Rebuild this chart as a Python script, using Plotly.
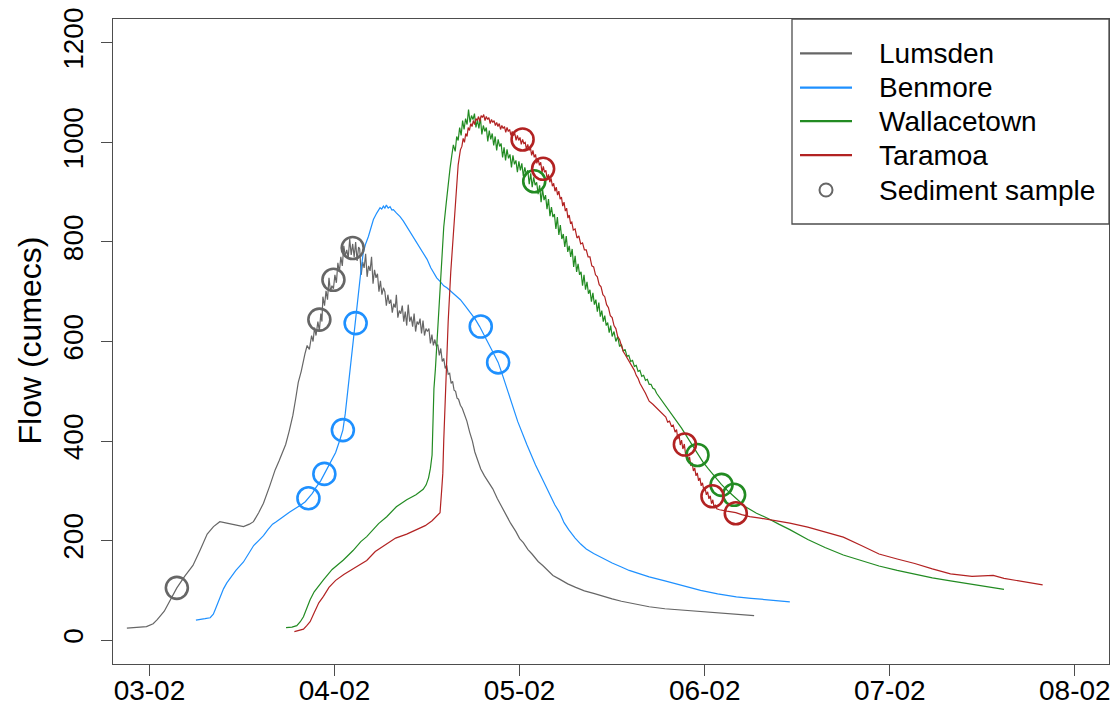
import plotly.graph_objects as go

# ---------------- data (day of February, flow in cumecs) ----------------
tick_vals = [3, 4, 5, 6, 7, 8]
tick_text = ["03-02", "04-02", "05-02", "06-02", "07-02", "08-02"]
y_ticks = [0, 200, 400, 600, 800, 1000, 1200]

site_names = ["Lumsden", "Benmore", "Wallacetown", "Taramoa"]
site_colors = ["#666666", "#1E90FF", "#228B22", "#B22222"]

lumsden_t = [2.878, 2.93, 2.984, 3.02, 3.042, 3.08, 3.12, 3.148, 3.19, 3.235, 3.274, 3.312, 3.346, 3.38,
             3.418, 3.46, 3.508, 3.54, 3.562, 3.59, 3.616, 3.65, 3.679, 3.70, 3.72, 3.736, 3.755, 3.775,
             3.79, 3.804, 3.82, 3.833,
             3.84, 3.852, 3.864, 3.876, 3.884, 3.892, 3.90, 3.91, 3.918, 3.926, 3.932, 3.937, 3.946,
             3.954, 3.962, 3.97, 3.978, 3.986, 3.994, 4.002, 4.01, 4.018, 4.026, 4.034, 4.042, 4.05,
             4.058, 4.066, 4.074, 4.082, 4.09, 4.098, 4.106, 4.114, 4.122, 4.13,
             4.136, 4.144, 4.152, 4.160, 4.168, 4.176, 4.184, 4.192, 4.200, 4.208, 4.216, 4.224, 4.232,
             4.240, 4.248, 4.256, 4.264, 4.272, 4.280, 4.288, 4.296, 4.304, 4.312, 4.320, 4.328, 4.334,
             4.342, 4.350, 4.358, 4.366, 4.374, 4.382, 4.390, 4.398, 4.406, 4.414, 4.422, 4.430, 4.438,
             4.446, 4.454, 4.462, 4.470, 4.478, 4.486, 4.494, 4.502, 4.510, 4.518, 4.526, 4.534, 4.542,
             4.550, 4.558, 4.566, 4.574, 4.582, 4.590, 4.598, 4.606, 4.614, 4.622, 4.630, 4.638, 4.646,
             4.654, 4.662, 4.670, 4.680, 4.690, 4.700,
             4.715, 4.73, 4.745, 4.758, 4.775, 4.79, 4.81, 4.83, 4.855, 4.88, 4.91, 4.93, 4.951, 4.98,
             5.0, 5.02, 5.045, 5.067, 5.10, 5.125, 5.15, 5.18, 5.218, 5.26, 5.303, 5.35, 5.40, 5.45,
             5.50, 5.55, 5.592, 5.65, 5.70, 5.785, 5.85, 5.90, 5.978, 6.05, 6.10, 6.15, 6.20, 6.267]
lumsden_q = [24, 25, 27, 33, 41, 58, 85, 105, 128, 150, 181, 213, 228, 238,
             235, 232, 228, 233, 238, 256, 275, 310, 342, 360, 378, 393, 420, 452,
             485, 518, 540, 565,
             575, 592, 584, 612, 600, 628, 612, 640, 622, 656, 640, 690, 672,
             702, 684, 728, 700, 712, 706, 734, 718, 758, 740, 770, 752, 792,
             772, 784, 768, 806, 774, 796, 770, 800, 762, 790,
             786, 734, 760, 748, 776, 730, 752, 742, 770, 716, 744, 728, 736,
             700, 722, 694, 708, 700, 672, 694, 676, 684, 658, 676, 668, 694,
             648, 662, 656, 672, 640, 660, 632, 674, 640, 650, 630, 656, 620,
             640, 634, 646, 616, 642, 612, 626, 620, 626, 596, 614, 592, 604,
             590, 594, 572, 586, 560, 566, 546, 552, 534, 536, 516, 520, 502,
             500, 486, 484, 472, 466, 456,
             440, 418, 400, 378, 358, 344, 330, 318, 304, 284, 262, 250, 235, 218,
             204, 196, 182, 173, 158, 150, 140, 130, 122, 113, 106, 99, 94, 88,
             83, 78, 75, 71, 67, 63, 61, 59, 57, 55, 53, 52, 50, 49]

benmore_t = [3.251, 3.274, 3.30, 3.328, 3.345, 3.355, 3.38, 3.40, 3.418, 3.44, 3.467, 3.508, 3.54,
             3.563, 3.59, 3.616, 3.64, 3.665, 3.685, 3.706, 3.73, 3.756, 3.78, 3.796, 3.82, 3.842,
             3.862, 3.88, 3.90, 3.925, 3.945, 3.965, 3.985, 4.006, 4.025, 4.045, 4.058, 4.068, 4.078,
             4.088, 4.099, 4.106, 4.113, 4.122, 4.13, 4.142, 4.155, 4.168, 4.183, 4.197, 4.21, 4.228,
             4.246, 4.255, 4.264, 4.272, 4.28, 4.29, 4.30, 4.31, 4.318, 4.335, 4.354, 4.372, 4.39,
             4.415, 4.44, 4.46, 4.48, 4.50, 4.52, 4.535, 4.552, 4.57, 4.59, 4.607, 4.624, 4.65, 4.68,
             4.705, 4.732, 4.76, 4.784, 4.81, 4.84, 4.865, 4.884, 4.91, 4.932, 4.96, 4.99, 5.04,
             5.086, 5.13, 5.164, 5.19, 5.218, 5.24, 5.265, 5.30, 5.33, 5.36, 5.40, 5.45, 5.50, 5.55,
             5.592, 5.65, 5.70, 5.785, 5.88, 5.978, 6.07, 6.171, 6.25, 6.30, 6.38, 6.46]
benmore_q = [40, 41, 43, 45, 52, 61, 85, 103, 115, 126, 140, 157, 176,
             190, 200, 210, 222, 233, 238, 243, 250, 257, 262, 266, 272, 278,
             286, 295, 307, 320, 334, 348, 362, 377, 398, 422, 455, 490, 525,
             555, 590, 615, 638, 672, 700, 740, 778, 796, 811, 828, 845, 858,
             869, 866, 872, 868, 874, 868, 871, 864, 865, 858, 851, 842, 831,
             815, 800, 790, 778, 765, 748, 738, 728, 721, 712, 708, 702, 694, 684,
             672, 659, 645, 630, 610, 590, 572, 558, 530, 505, 470, 439, 392,
             352, 318, 293, 272, 255, 236, 222, 205, 193, 183, 174, 164, 155, 147,
             140, 133, 127, 119, 109, 100, 93, 87, 84, 82, 80, 77]

wallace_t = [3.738, 3.77, 3.796, 3.815, 3.832, 3.85, 3.868, 3.89, 3.915, 3.94, 3.987, 4.048, 4.10,
             4.142, 4.174, 4.238, 4.282, 4.334, 4.39, 4.44, 4.479, 4.495, 4.508, 4.518, 4.527, 4.533,
             4.537, 4.545, 4.556, 4.566, 4.576, 4.59, 4.604, 4.614, 4.624, 4.634,
             4.642, 4.652, 4.660, 4.668, 4.676, 4.684, 4.692, 4.700, 4.708, 4.716, 4.724, 4.732, 4.740,
             4.748, 4.756, 4.764, 4.772, 4.780, 4.788, 4.796, 4.804, 4.812, 4.820, 4.828, 4.836, 4.844,
             4.852, 4.860, 4.868, 4.876, 4.884, 4.892, 4.900, 4.908, 4.916, 4.924, 4.932, 4.940, 4.948,
             4.956, 4.964, 4.972, 4.980, 4.988, 4.996, 5.004, 5.012, 5.020, 5.028, 5.036, 5.044, 5.052,
             5.060, 5.068, 5.076, 5.084, 5.092, 5.100, 5.108, 5.116, 5.124, 5.132, 5.140, 5.148, 5.156,
             5.164, 5.172, 5.180, 5.188, 5.196, 5.204, 5.212, 5.220, 5.228, 5.236, 5.244, 5.252, 5.260,
             5.268, 5.276, 5.284, 5.292, 5.300, 5.308, 5.316, 5.324, 5.332, 5.340, 5.348, 5.356, 5.364,
             5.372, 5.380, 5.388, 5.396, 5.404, 5.412, 5.420, 5.428, 5.436, 5.444, 5.452, 5.460, 5.468,
             5.476, 5.484, 5.492, 5.500, 5.510, 5.520, 5.530, 5.540, 5.550, 5.560, 5.570, 5.580, 5.590,
             5.600, 5.610, 5.620, 5.630, 5.640, 5.650,
             5.66, 5.67, 5.68, 5.69, 5.70, 5.71, 5.72, 5.73, 5.74, 5.76, 5.78, 5.80, 5.82,
             5.848, 5.875, 5.902, 5.93, 5.961, 5.99, 6.02, 6.064, 6.09, 6.13, 6.172, 6.22, 6.28,
             6.345, 6.40, 6.46, 6.557, 6.65, 6.749, 6.85, 6.942, 7.04, 7.135, 7.23, 7.328, 7.45,
             7.52, 7.617]
wallace_q = [25, 26, 29, 37, 47, 64, 81, 97, 110, 121, 142, 161, 180,
             198, 208, 234, 248, 268, 282, 292, 303, 312, 326, 345, 372, 440,
             505, 545, 617, 690, 751, 830, 880, 922, 948, 975,
             995, 982, 1012, 1004, 1030, 1014, 1044, 1026, 1048, 1036, 1066, 1040, 1054,
             1046, 1058, 1030, 1046, 1028, 1050, 1016, 1034, 1022, 1030, 1002, 1024, 1006,
             1018, 994, 1012, 984, 1006, 992, 998, 970, 990, 964, 986, 968, 976,
             950, 974, 956, 964, 940, 962, 944, 958, 932, 950, 936, 944, 916,
             938, 910, 930, 914, 920, 896, 914, 880, 906, 884, 894, 866, 886,
             852, 870, 850, 856, 826, 850, 814, 834, 806, 816, 790, 812, 780,
             792, 770, 786, 750, 772, 740, 756, 734, 740, 712, 734, 704, 720,
             696, 704, 680, 698, 674, 684, 660, 678, 650, 662, 640, 652, 632,
             638, 618, 632, 610, 620, 600, 610, 590, 594, 580, 584, 570, 572,
             560, 562, 550, 552, 540, 542,
             530, 532, 522, 524, 514, 514, 506, 504, 496, 486, 476, 466, 455,
             442, 426, 410, 393, 374, 358, 344, 324, 313, 298, 284, 268, 255,
             244, 233, 222, 202, 186, 171, 159, 149, 140, 132, 125, 119, 112,
             108, 102]

taramoa_t = [3.783, 3.81, 3.832, 3.85, 3.868, 3.89, 3.915, 3.94, 3.97, 4.006, 4.05, 4.103, 4.14,
             4.174, 4.22, 4.282, 4.33, 4.39, 4.44, 4.49, 4.527, 4.55, 4.57, 4.579, 4.585, 4.59, 4.595,
             4.60, 4.604, 4.614, 4.628, 4.643, 4.656, 4.668, 4.68,
             4.688, 4.695, 4.702, 4.709, 4.716, 4.722, 4.729, 4.736, 4.743, 4.75, 4.757, 4.764, 4.771,
             4.778, 4.785, 4.792, 4.799, 4.806, 4.813, 4.82, 4.827, 4.834, 4.841, 4.848, 4.855, 4.862,
             4.869, 4.876, 4.883, 4.89, 4.897, 4.904, 4.911, 4.918, 4.925, 4.932, 4.939, 4.946, 4.953,
             4.96, 4.967, 4.974, 4.981, 4.988, 4.995, 5.002, 5.009, 5.016, 5.023, 5.03, 5.037, 5.044,
             5.051, 5.058, 5.065, 5.072, 5.079, 5.086, 5.093, 5.10, 5.107, 5.114, 5.121, 5.128, 5.135,
             5.142, 5.149, 5.156, 5.163, 5.17, 5.177, 5.184, 5.191, 5.198, 5.205, 5.212, 5.219, 5.226,
             5.233, 5.24, 5.247, 5.254, 5.261, 5.268, 5.275, 5.282, 5.29, 5.30, 5.31, 5.32, 5.33, 5.34,
             5.35, 5.36, 5.37, 5.38, 5.39, 5.40, 5.41, 5.42, 5.43, 5.44, 5.45, 5.46, 5.47, 5.48, 5.49,
             5.50, 5.51, 5.52, 5.53, 5.54, 5.55, 5.56, 5.57, 5.58, 5.59, 5.60, 5.61, 5.62, 5.63, 5.64,
             5.65, 5.66, 5.67, 5.68, 5.69, 5.70, 5.72, 5.74, 5.76, 5.776, 5.79, 5.80, 5.81, 5.82, 5.83,
             5.84, 5.848, 5.855, 5.862, 5.868, 5.875, 5.882, 5.89, 5.897, 5.904, 5.911, 5.918, 5.925,
             5.932, 5.939, 5.946, 5.953, 5.96, 5.967, 5.974, 5.981, 5.988, 5.995, 6.002, 6.009, 6.016,
             6.023, 6.03, 6.037, 6.044, 6.051, 6.058, 6.065, 6.08, 6.12, 6.168, 6.20, 6.243, 6.30,
             6.345, 6.40, 6.46, 6.557, 6.65, 6.749, 6.846, 6.942, 7.04, 7.135, 7.23, 7.328, 7.444,
             7.50, 7.559, 7.617, 7.72, 7.826]
taramoa_q = [17, 19, 22, 29, 37, 55, 75, 88, 106, 120, 132, 144, 152,
             160, 178, 194, 205, 213, 221, 230, 240, 248, 256, 302, 335, 400, 450,
             520, 571, 640, 740, 820, 900, 955, 985,
             992, 1008, 1000, 1018, 1012, 1030, 1024, 1038, 1032, 1044, 1036, 1048, 1044,
             1052, 1042, 1054, 1050, 1056, 1044, 1052, 1046, 1050, 1038, 1046, 1040, 1044,
             1034, 1040, 1032, 1038, 1026, 1034, 1028, 1032, 1020, 1030, 1022, 1026, 1014,
             1022, 1014, 1018, 1004, 1014, 1004, 1010, 996, 1006, 998, 1000, 986, 996,
             984, 990, 974, 984, 970, 976, 958, 968, 954, 960, 940, 952, 940,
             944, 926, 936, 920, 928, 912, 918, 902, 910, 894, 902, 886, 890,
             872, 880, 862, 868, 848, 854, 838, 840, 824, 826, 808, 812, 796, 798,
             784, 784, 770, 770, 752, 750, 734, 730, 714, 710, 694, 690, 674, 668, 652,
             648, 632, 626, 610, 604, 590, 580, 574, 568, 560, 556, 548, 542, 532, 526,
             516, 510, 502, 496, 488, 480, 474, 466, 458, 452, 448, 438, 440, 430, 432,
             418, 423, 404, 412, 392, 402, 384, 394, 372, 380, 360, 368, 350,
             356, 340, 346, 330, 336, 320, 326, 310, 316, 302, 306, 292, 298,
             284, 290, 274, 282, 266, 272, 264, 262, 259, 256, 252, 248, 245,
             242, 239, 235, 227, 218, 207, 190, 173, 163, 154, 143, 133, 128,
             129, 130, 124, 117, 111]

# sediment samples per site
lumsden_sample_t = [3.148, 3.918, 3.994, 4.098]
lumsden_sample_q = [105, 644, 724, 788]
benmore_sample_t = [3.859, 3.945, 4.045, 4.114, 4.79, 4.884]
benmore_sample_q = [285, 334, 422, 637, 630, 558]
wallace_sample_t = [5.079, 5.961, 6.091, 6.159]
wallace_sample_q = [922, 372, 312, 292]
taramoa_sample_t = [5.016, 5.127, 5.893, 6.042, 6.168]
taramoa_sample_q = [1006, 947, 393, 289, 255]

series_t = [lumsden_t, benmore_t, wallace_t, taramoa_t]
series_q = [lumsden_q, benmore_q, wallace_q, taramoa_q]
samples_t = [lumsden_sample_t, benmore_sample_t, wallace_sample_t, taramoa_sample_t]
samples_q = [lumsden_sample_q, benmore_sample_q, wallace_sample_q, taramoa_sample_q]

legend_labels = site_names + ["Sediment sample"]

# ---------------- figure ----------------
# The page body has an 8px margin, so the figure is offset to land on the window.
OFF = 8
W, H = 1110, 704
ML, MR, MT, MB = 105, 9, 11, 48
PW, PH = W - ML - MR, H - MT - MB
FONT = "Liberation Sans, Arial, sans-serif"
AXIS_COL = "#4d4d4d"


def px_x(px):
    """window pixel x -> paper coordinate"""
    return (px - OFF - ML) / PW


def px_y(py):
    """window pixel y -> paper coordinate"""
    return (H - MB - (py - OFF)) / PH


fig = go.Figure()
for name, col, t, q in zip(site_names, site_colors, series_t, series_q):
    fig.add_trace(go.Scatter(x=t, y=q, mode="lines", name=name,
                             line=dict(color=col, width=1.2), showlegend=False,
                             hoverinfo="skip"))
for name, col, t, q in zip(site_names, site_colors, samples_t, samples_q):
    fig.add_trace(go.Scatter(x=t, y=q, mode="markers", name=name + " sample",
                             marker=dict(symbol="circle-open", size=22, color=col,
                                         line=dict(width=2.6, color=col)),
                             showlegend=False))

# manual legend (R-style boxed legend)
shapes = [dict(type="rect", xref="paper", yref="paper",
               x0=px_x(792), x1=1.0, y0=px_y(224), y1=1.0,
               line=dict(color=AXIS_COL, width=1.3), fillcolor="white", layer="above")]
annotations = []
row_y = [53.3, 87.7, 121.2, 155.2, 190]
for i, lab in enumerate(legend_labels):
    yy = px_y(row_y[i])
    if i < len(site_colors):
        shapes.append(dict(type="line", xref="paper", yref="paper",
                           x0=px_x(800), x1=px_x(852), y0=yy, y1=yy,
                           line=dict(color=site_colors[i], width=2.2), layer="above"))
    else:
        shapes.append(dict(type="circle", xref="paper", yref="paper",
                           x0=px_x(819.5), x1=px_x(832.5),
                           y0=px_y(row_y[i] + 6.5), y1=px_y(row_y[i] - 6.5),
                           line=dict(color="#666666", width=2), layer="above"))
    annotations.append(dict(text=lab, xref="paper", yref="paper", x=px_x(877), y=yy,
                            xanchor="left", yanchor="middle", showarrow=False,
                            font=dict(family=FONT, size=28, color="black")))

annotations.append(dict(text="Flow (cumecs)", xref="paper", yref="paper",
                        x=px_x(29), y=px_y(340.5), textangle=-90,
                        xanchor="center", yanchor="middle", showarrow=False,
                        font=dict(family=FONT, size=32, color="black")))

fig.update_layout(
    width=W, height=H,
    margin=dict(l=ML, r=MR, t=MT, b=MB, autoexpand=False),
    paper_bgcolor="white", plot_bgcolor="white",
    showlegend=False,
    font=dict(family=FONT, size=28, color="black"),
    shapes=shapes, annotations=annotations,
)
fig.update_xaxes(range=[2.803, 8.1845], tickmode="array", tickvals=tick_vals, ticktext=tick_text,
                 showgrid=False, zeroline=False, showline=True, mirror=True,
                 linecolor=AXIS_COL, linewidth=1.3, ticks="outside", ticklen=11,
                 tickwidth=1.3, tickcolor=AXIS_COL, ticklabelstandoff=-10,
                 ticklabeloverflow="allow",
                 tickfont=dict(family=FONT, size=28, color="black"))
fig.update_yaxes(range=[-48, 1248], tickmode="array", tickvals=y_ticks,
                 ticktext=[str(v) for v in y_ticks], tickangle=-90,
                 showgrid=False, zeroline=False, showline=True, mirror=True,
                 linecolor=AXIS_COL, linewidth=1.3, ticks="outside", ticklen=11,
                 tickwidth=1.3, tickcolor=AXIS_COL, ticklabelstandoff=7,
                 ticklabeloverflow="allow",
                 tickfont=dict(family=FONT, size=28, color="black"))

fig.write_html("out.html")
